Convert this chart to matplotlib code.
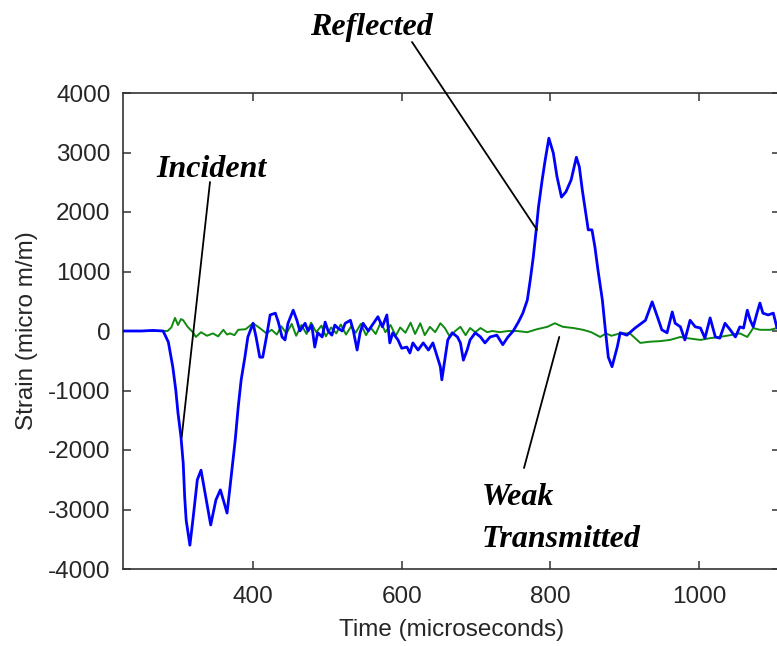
import matplotlib
matplotlib.use("Agg")
import matplotlib.pyplot as plt

# incident + reflected pulse (blue), transmitted pulse (green)
t_blue = [225, 250, 265, 279, 286, 292, 296, 299, 303, 306, 308, 310, 315, 319, 325,
          330, 337, 343, 350, 356, 360, 365, 369, 376, 380, 384, 389, 393, 400, 404,
          409, 413, 418, 423, 430, 434, 439, 443, 447, 454, 459, 463, 470, 474, 479,
          483, 487, 493, 497, 501, 506, 510, 514, 520, 524, 531, 535, 540, 544, 548,
          555, 562, 568, 574, 580, 584, 588, 595, 600, 607, 611, 615, 622, 629, 636,
          642, 648, 652, 654, 658, 662, 668, 675, 679, 683, 688, 692, 699, 706, 712,
          719, 728, 736, 743, 750, 757, 763, 769, 773, 777, 781, 784, 789, 793, 798,
          804, 809, 815, 821, 828, 835, 839, 843, 847, 851, 856, 860, 864, 870, 874,
          878, 883, 890, 894, 903, 914, 928, 937, 944, 950, 957, 964, 968, 975, 981,
          988, 995, 1002, 1008, 1015, 1022, 1028, 1035, 1042, 1049, 1055, 1060, 1065,
          1069, 1073, 1078, 1082, 1086, 1093, 1100, 1105, 1110]
e_blue = [0, 0, 10, 0, -185, -605, -990, -1380, -1780, -2220, -2790, -3180, -3600, -3180, -2500,
          -2340, -2840, -3260, -2840, -2670, -2840, -3060, -2620, -1830, -1280, -820, -440, -100, 130, -100,
          -440, -440, -100, 270, 300, 150, -100, -150, 130, 350, 180, 0, 130, 0, 100,
          -270, -30, -100, 150, 0, -70, 100, 50, 0, 130, 180, 0, -320, -30, 130,
          0, 130, 240, 70, 270, -200, -30, -150, -290, -270, -370, -200, -320, -200, -320,
          -200, -440, -600, -820, -490, -150, -30, -100, -200, -490, -320, -150, -30, -100, -200,
          -100, -70, -230, -100, 0, 150, 300, 520, 860, 1240, 1700, 2080, 2540, 2870, 3240,
          2990, 2590, 2250, 2340, 2540, 2920, 2760, 2370, 2030, 1700, 1700, 1410, 1030, 520, 20,
          -440, -600, -270, -30, -70, 50, 180, 490, 240, 20, -30, 320, 130, 70, -150,
          180, 70, 50, -120, 220, -100, -120, 130, 20, -100, 70, 50, 350,
          180, 70, 300, 470, 300, 270, 300, 50, 80]

t_green = [225, 285, 290, 295, 299, 303, 306, 312, 319, 323, 330, 338, 346, 353, 360,
           365, 369, 375, 380, 390, 400, 409, 418, 425, 432, 438, 445, 452, 458, 465,
           472, 478, 485, 492, 498, 505, 512, 518, 525, 532, 538, 545, 552, 558, 565,
           572, 578, 585, 592, 598, 605, 612, 618, 625, 631, 638, 645, 652, 658, 665,
           672, 679, 686, 692, 699, 706, 715, 722, 732, 743, 755, 769, 782, 796, 806,
           817, 831, 844, 855, 867, 875, 882, 894, 907, 914, 921, 934, 948, 961, 975,
           984, 1002, 1015, 1028, 1042, 1055, 1065, 1073, 1082, 1096, 1105, 1110]
e_green = [0, 0, 60, 220, 100, 200, 180, 70, -20, -100, -20, -80, -40, -90, 20,
           -60, -40, -70, 20, 30, 130, 50, -40, 20, -60, 80, -40, 120, -80, 100,
           -50, 140, -20, 90, -90, 60, -40, 110, -60, 80, -30, 120, -70, 60, -50,
           150, -20, 100, -80, 60, -30, 140, -50, 130, -70, 70, -20, 130, 50, -100,
           0, 70, -70, 50, -20, 50, -20, 0, -20, 0, 0, -20, 30, 70, 130,
           70, 50, 20, -20, -100, -40, -80, -40, -40, -120, -200, -180, -170, -150, -100,
           -120, -150, -120, -100, -70, -40, -100, 50, 20, 20, 50, 40]

x_ticks = [400, 600, 800, 1000]
y_ticks = [-4000, -3000, -2000, -1000, 0, 1000, 2000, 3000, 4000]

W, H = 777, 646
fig = plt.figure(figsize=(W / 100, H / 100), dpi=100)
ax = fig.add_axes([123 / W, (H - 569) / H, (780 - 123) / W, (569 - 93) / H])

ax.plot(t_green, e_green, color="#108a10", lw=1.4, zorder=2)
ax.plot(t_blue, e_blue, color="#0000ff", lw=2.0, zorder=3)

ax.set_xlim(225, 1109)
ax.set_ylim(-4000, 4000)
ax.set_xticks(x_ticks)
ax.set_yticks(y_ticks)

tick_font = {"family": "Liberation Sans", "size": 17.5}
ax.set_xticklabels([str(v) for v in x_ticks], fontdict=tick_font, color="#262626")
ax.set_yticklabels([str(v) for v in y_ticks], fontdict=tick_font, color="#262626")
ax.tick_params(direction="in", length=5.5, width=1.1, color="#333333",
               top=True, right=True, pad=9)
ax.tick_params(axis="x", pad=12)
for s in ax.spines.values():
    s.set_color("#333333")
    s.set_linewidth(1.2)

ax.set_xlabel("Time (microseconds)", fontdict=tick_font, color="#262626", labelpad=8)
ax.set_ylabel("Strain (micro m/m)", fontdict=tick_font, color="#262626", labelpad=7)

# pulse labels with leader lines
lab = {"family": "Liberation Serif", "weight": "bold", "style": "italic", "size": 23}
fig.text(310 / W, (H - 35) / H, "Reflected", va="baseline", ha="left", **lab)
fig.text(156 / W, (H - 177) / H, "Incident", va="baseline", ha="left", **lab)
fig.text(482 / W, (H - 505) / H, "Weak", va="baseline", ha="left", **lab)
fig.text(482 / W, (H - 547) / H, "Transmitted", va="baseline", ha="left", **lab)

line = dict(arrowstyle="-", color="black", lw=1.3, shrinkA=0, shrinkB=0)
ax.annotate("", xy=(782, 1700), xycoords="data",
            xytext=(412, H - 42), textcoords="figure pixels", arrowprops=line,
            annotation_clip=False)
ax.annotate("", xy=(304, -1780), xycoords="data",
            xytext=(210, H - 182), textcoords="figure pixels", arrowprops=line,
            annotation_clip=False)
ax.annotate("", xy=(812, -100), xycoords="data",
            xytext=(524, H - 468), textcoords="figure pixels", arrowprops=line,
            annotation_clip=False)

fig.savefig("out.png", dpi=100)
